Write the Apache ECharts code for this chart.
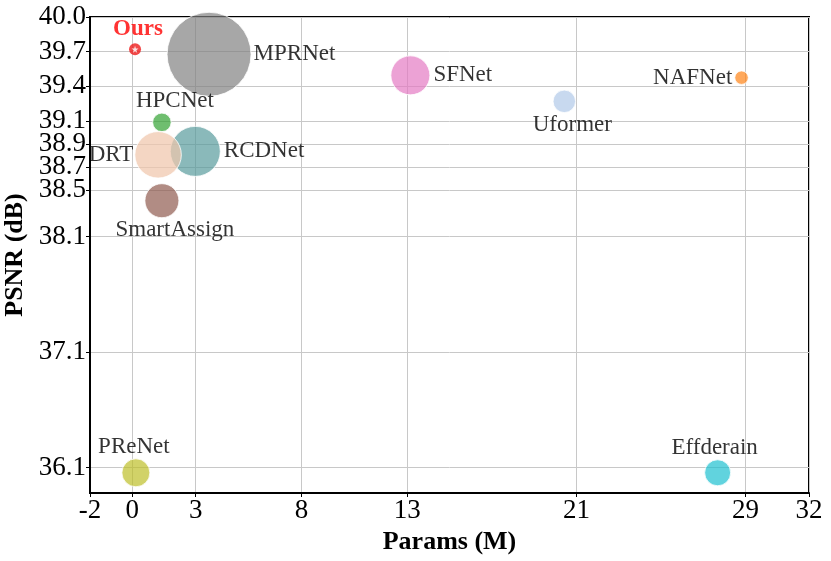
<!DOCTYPE html>
<html><head><meta charset="utf-8">
<script src="https://cdn.jsdelivr.net/npm/echarts@6/dist/echarts.min.js"></script>
<style>html,body{margin:0;padding:0;background:#fff}#c{width:831px;height:561px}</style>
</head><body><div id="c"></div>
<script>
// ---- data ----
const models = ['Ours','MPRNet','HPCNet','RCDNet','DRT','SmartAssign','SFNet','Uformer','NAFNet','PReNet','Effderain'];
const params = [0.13, 3.63, 1.40, 2.98, 1.22, 1.40, 13.15, 20.43, 28.81, 0.17, 27.68];
const psnr   = [39.72, 39.677, 39.088, 38.837, 38.807, 38.41, 39.495, 39.27, 39.475, 36.055, 36.055];
const bubbleSize = [12, 84, 18.5, 50, 46.5, 34, 39, 22.5, 13.5, 28, 26];
const xTicks = [-2, 0, 3, 8, 13, 21, 29, 32];
const yTicks = [36.1, 37.1, 38.1, 38.5, 38.7, 38.9, 39.1, 39.4, 39.7, 40.0];

// ---- styles ----
const colors = {
  Ours:'#ee1c1c', MPRNet:'rgba(127,127,127,0.86)', HPCNet:'rgba(44,160,44,0.85)',
  RCDNet:'rgba(84,152,154,0.85)', DRT:'rgba(240,198,172,0.9)', SmartAssign:'rgba(140,86,75,0.85)',
  SFNet:'rgba(227,119,194,0.85)', Uformer:'rgba(174,199,232,0.85)', NAFNet:'rgba(255,127,14,0.85)',
  PReNet:'rgba(188,189,34,0.85)', Effderain:'rgba(23,190,207,0.85)'
};
const labelCfg = {
  Ours:{position:'top', distance:3, color:'#ff0000', fontWeight:'bold', fontSize:23, offset:[3,0]},
  MPRNet:{position:'right', distance:2},
  HPCNet:{position:'top', distance:0, offset:[13,0]},
  RCDNet:{position:'right', distance:3},
  DRT:{position:'left', distance:1},
  SmartAssign:{position:'bottom', distance:0, offset:[13,0]},
  SFNet:{position:'right', distance:3},
  Uformer:{position:'bottom', distance:0, offset:[8,0]},
  NAFNet:{position:'left', distance:2},
  PReNet:{position:'top', distance:0, offset:[-2,0]},
  Effderain:{position:'top', distance:0, offset:[-3,0]}
};
const FONT = '"Liberation Serif", "DejaVu Serif", serif';

const bubbleData = models.map((m,i)=>({
  name:m, value:[params[i], psnr[i]], symbolSize:bubbleSize[i],
  itemStyle:{color:colors[m], borderColor:'#ffffff', borderWidth: m==='Ours'?0:1},
  label:Object.assign({show:true, formatter:m, color:'#000', fontSize:23, fontFamily:FONT}, labelCfg[m])
}));

const chart = echarts.init(document.getElementById('c'), null, {renderer:'canvas'});
chart.setOption({
  animation:false,
  backgroundColor:'#fff',
  grid:{left:90, right:22, top:17, bottom:68, outerBoundsMode:'none', containLabel:false,
        show:true, borderColor:'#000', borderWidth:2, backgroundColor:'transparent'},
  xAxis:{
    type:'value', min:-2, max:32,
    name:'Params (M)', nameLocation:'middle', nameGap:35,
    nameTextStyle:{fontFamily:FONT, fontSize:26, fontWeight:'bold', color:'#000'},
    axisLine:{show:true, onZero:false, lineStyle:{color:'#000', width:2}},
    axisTick:{show:true, length:4, lineStyle:{color:'#000'}, customValues:xTicks},
    axisLabel:{fontFamily:FONT, fontSize:27, color:'#000', margin:4, customValues:xTicks, formatter:v=>String(v)},
    splitLine:{show:true, lineStyle:{color:'#c8c8c8', width:1}, customValues:xTicks}
  },
  yAxis:{
    type:'value', min:35.88, max:40,
    name:'PSNR (dB)', nameLocation:'middle', nameGap:57, nameRotate:90,
    nameTextStyle:{fontFamily:FONT, fontSize:26, fontWeight:'bold', color:'#000'},
    axisLine:{show:true, onZero:false, lineStyle:{color:'#000', width:2}},
    axisTick:{show:true, length:4, lineStyle:{color:'#000'}, customValues:yTicks},
    axisLabel:{fontFamily:FONT, fontSize:27, color:'#000', margin:4, customValues:yTicks, formatter:v=>v.toFixed(1)},
    splitLine:{show:true, lineStyle:{color:'#c8c8c8', width:1}, customValues:yTicks}
  },
  series:[
    {type:'scatter', clip:false, data:bubbleData, emphasis:{disabled:true}, z:3},
    {type:'scatter', clip:false, symbol:'path://M50,0 L61,35 L98,35 L68,57 L79,91 L50,70 L21,91 L32,57 L2,35 L39,35 Z',
     symbolSize:7, itemStyle:{color:'#ffffff', opacity:0.85}, data:[[params[0], psnr[0]]], silent:true, z:4}
  ]
});
</script></body></html>
